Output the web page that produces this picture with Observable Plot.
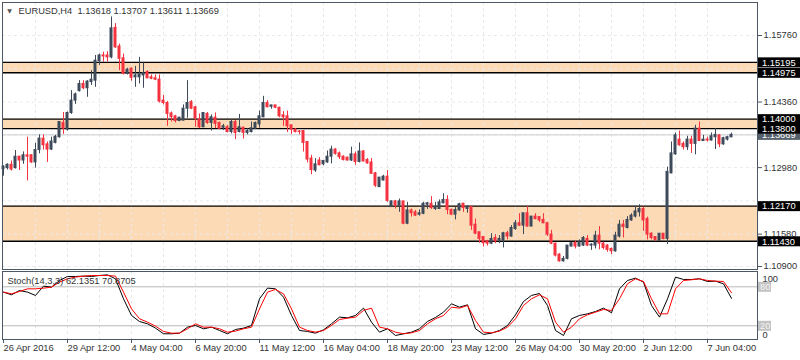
<!DOCTYPE html>
<html><head><meta charset="utf-8">
<script src="https://cdn.jsdelivr.net/npm/d3@7"></script>
<script src="https://cdn.jsdelivr.net/npm/@observablehq/plot@0.6"></script>
<style>
html,body{margin:0;padding:0;background:#fff;}
#wrap{position:relative;width:800px;height:360px;overflow:hidden;font-family:"Liberation Sans",Arial,sans-serif;}
#main{position:absolute;left:0;top:0;}
#stoch{position:absolute;left:0;top:270px;}
svg{display:block;}
</style></head><body>
<div id="wrap"><div id="main"></div><div id="stoch"></div></div>
<script>
// ---- EURUSD H4 candles (index 0 = 26 Apr 2016 20:00) ----
const opens=[1.1295,1.1297,1.1304,1.1297,1.1321,1.1313,1.1324,1.1324,1.1309,1.1335,1.1359,1.1347,1.1336,1.1350,1.1362,1.1392,1.1378,1.1413,1.1439,1.1459,
1.1474,1.1465,1.1478,1.1481,1.1522,1.1534,1.1534,1.1530,1.1592,1.1553,1.1528,1.1495,1.1506,1.1488,1.1488,1.1492,1.1499,1.1488,1.1486,1.1483,
1.1439,1.1434,1.1412,1.1406,1.1396,1.1397,1.1422,1.1436,1.1425,1.1399,1.1383,1.1411,1.1392,1.1403,1.1392,1.1382,1.1383,1.1373,1.1394,1.1373,
1.1382,1.1371,1.1373,1.1380,1.1389,1.1404,1.1434,1.1426,1.1429,1.1424,1.1408,1.1406,1.1387,1.1378,1.1374,1.1375,1.1352,1.1317,1.1292,1.1313,
1.1305,1.1309,1.1321,1.1336,1.1328,1.1321,1.1319,1.1313,1.1326,1.1310,1.1332,1.1314,1.1309,1.1286,1.1257,1.1271,1.1279,1.1215,1.1227,1.1218,
1.1227,1.1180,1.1208,1.1204,1.1199,1.1201,1.1220,1.1222,1.1211,1.1211,1.1223,1.1230,1.1209,1.1199,1.1208,1.1222,1.1211,1.1215,1.1178,1.1162,
1.1152,1.1143,1.1138,1.1150,1.1145,1.1145,1.1160,1.1153,1.1169,1.1181,1.1176,1.1202,1.1174,1.1195,1.1194,1.1188,1.1181,1.1157,1.1138,1.1115,
1.1101,1.1106,1.1132,1.1140,1.1132,1.1134,1.1148,1.1134,1.1134,1.1155,1.1138,1.1134,1.1127,1.1122,1.1153,1.1178,1.1171,1.1187,1.1195,1.1204,
1.1211,1.1190,1.1159,1.1152,1.1145,1.1159,1.1148,1.1286,1.1326,1.1357,1.1348,1.1341,1.1357,1.1348,1.1380,1.1354,1.1357,1.1355,1.1362,1.1366,
1.1347,1.1357,1.13618];
const highs=[1.1302,1.1306,1.1312,1.1334,1.1322,1.1331,1.1362,1.1325,1.1349,1.1367,1.1367,1.1352,1.1362,1.1366,1.1395,1.1414,1.1415,1.1460,1.1455,1.1481,
1.1481,1.1481,1.1502,1.1534,1.1537,1.1541,1.1542,1.1615,1.1601,1.1558,1.1537,1.1507,1.1508,1.1511,1.1530,1.1518,1.1502,1.1493,1.1493,1.1493,
1.1450,1.1437,1.1415,1.1408,1.1404,1.1430,1.1481,1.1439,1.1427,1.1411,1.1413,1.1414,1.1409,1.1413,1.1394,1.1389,1.1387,1.1399,1.1397,1.1410,
1.1383,1.1380,1.1394,1.1394,1.1417,1.1448,1.1439,1.1429,1.1429,1.1425,1.1416,1.1417,1.1388,1.1380,1.1376,1.1376,1.1352,1.1324,1.1317,1.1319,
1.1313,1.1333,1.1343,1.1338,1.1331,1.1323,1.1320,1.1341,1.1331,1.1350,1.1334,1.1317,1.1317,1.1288,1.1277,1.1282,1.1292,1.1228,1.1229,1.1232,
1.1227,1.1225,1.1211,1.1208,1.1209,1.1225,1.1225,1.1237,1.1225,1.1230,1.1243,1.1239,1.1211,1.1214,1.1223,1.1223,1.1218,1.1216,1.1190,1.1162,
1.1152,1.1145,1.1159,1.1157,1.1155,1.1162,1.1164,1.1176,1.1187,1.1201,1.1202,1.1216,1.1195,1.1201,1.1195,1.1201,1.1183,1.1166,1.1139,1.1117,
1.1111,1.1134,1.1141,1.1143,1.1146,1.1153,1.1155,1.1138,1.1164,1.1174,1.1141,1.1136,1.1129,1.1162,1.1187,1.1187,1.1195,1.1201,1.1215,1.1220,
1.1215,1.1194,1.1161,1.1153,1.1159,1.1159,1.1299,1.1352,1.1371,1.1375,1.1352,1.1364,1.1364,1.1387,1.1394,1.1366,1.1362,1.1371,1.1380,1.1367,
1.1362,1.1364,1.13707];
const lows=[1.1280,1.1293,1.1291,1.1295,1.1292,1.1305,1.1270,1.1307,1.1297,1.1327,1.1335,1.1309,1.1334,1.1348,1.1360,1.1368,1.1375,1.1410,1.1431,1.1457,
1.1462,1.1446,1.1471,1.1467,1.1513,1.1520,1.1520,1.1527,1.1549,1.1502,1.1493,1.1493,1.1480,1.1467,1.1474,1.1465,1.1485,1.1483,1.1481,1.1434,
1.1430,1.1385,1.1394,1.1392,1.1395,1.1396,1.1402,1.1420,1.1383,1.1380,1.1382,1.1389,1.1375,1.1380,1.1378,1.1376,1.1371,1.1369,1.1357,1.1371,
1.1358,1.1367,1.1371,1.1378,1.1381,1.1403,1.1424,1.1421,1.1422,1.1403,1.1385,1.1372,1.1368,1.1371,1.1367,1.1331,1.1308,1.1283,1.1288,1.1302,
1.1302,1.1307,1.1306,1.1324,1.1315,1.1312,1.1312,1.1311,1.1303,1.1308,1.1310,1.1305,1.1284,1.1256,1.1256,1.1270,1.1225,1.1215,1.1211,1.1204,
1.1178,1.1178,1.1194,1.1195,1.1196,1.1199,1.1210,1.1210,1.1208,1.1210,1.1222,1.1199,1.1197,1.1188,1.1206,1.1204,1.1202,1.1166,1.1157,1.1139,
1.1131,1.1133,1.1136,1.1138,1.1138,1.1129,1.1146,1.1152,1.1166,1.1174,1.1157,1.1173,1.1174,1.1188,1.1183,1.1180,1.1153,1.1136,1.1110,1.1099,
1.1099,1.1104,1.1131,1.1127,1.1131,1.1132,1.1132,1.1124,1.1127,1.1125,1.1125,1.1120,1.1115,1.1120,1.1150,1.1150,1.1169,1.1185,1.1192,1.1194,
1.1164,1.1146,1.1146,1.1143,1.1143,1.1146,1.1136,1.1285,1.1324,1.1343,1.1335,1.1334,1.1328,1.1325,1.1353,1.1353,1.1352,1.1354,1.1336,1.1340,
1.1345,1.1354,1.13611];
const closes=[1.1300,1.1304,1.1294,1.1321,1.1313,1.1324,1.1321,1.1309,1.1335,1.1359,1.1345,1.1336,1.1353,1.1363,1.1394,1.1380,1.1413,1.1439,1.1452,1.1474,
1.1465,1.1479,1.1483,1.1523,1.1534,1.1532,1.1530,1.1591,1.1551,1.1527,1.1495,1.1504,1.1487,1.1492,1.1494,1.1497,1.1486,1.1485,1.1483,1.1437,
1.1434,1.1411,1.1404,1.1396,1.1403,1.1422,1.1434,1.1422,1.1401,1.1383,1.1413,1.1392,1.1404,1.1390,1.1380,1.1385,1.1373,1.1394,1.1371,1.1383,
1.1371,1.1375,1.1381,1.1392,1.1406,1.1434,1.1425,1.1429,1.1424,1.1406,1.1404,1.1385,1.1378,1.1373,1.1373,1.1350,1.1315,1.1293,1.1305,1.1303,
1.1312,1.1321,1.1336,1.1327,1.1320,1.1314,1.1313,1.1326,1.1310,1.1332,1.1311,1.1307,1.1285,1.1260,1.1277,1.1279,1.1228,1.1227,1.1218,1.1227,
1.1180,1.1208,1.1202,1.1197,1.1202,1.1222,1.1223,1.1213,1.1215,1.1225,1.1230,1.1209,1.1199,1.1209,1.1221,1.1213,1.1215,1.1176,1.1159,1.1148,
1.1139,1.1138,1.1148,1.1143,1.1148,1.1160,1.1153,1.1171,1.1181,1.1176,1.1202,1.1174,1.1195,1.1190,1.1187,1.1181,1.1157,1.1138,1.1113,1.1101,
1.1106,1.1134,1.1139,1.1132,1.1141,1.1150,1.1134,1.1136,1.1155,1.1138,1.1129,1.1125,1.1122,1.1155,1.1178,1.1173,1.1188,1.1197,1.1206,1.1211,
1.1187,1.1157,1.1150,1.1146,1.1159,1.1148,1.1289,1.1328,1.1366,1.1345,1.1341,1.1357,1.1348,1.1380,1.1354,1.1357,1.1355,1.1364,1.1367,1.1347,
1.1360,1.1362,1.13669];

// ---- Stochastic (14,3,3), sampled every second bar ----
const stochK=[71.8,67.7,74.3,71.8,66.7,81,79.5,89.7,95.9,95.9,96.4,95.9,97.4,98.4,92.3,61.5,35.9,26.6,23.1,16.4,
7.7,7.7,8.7,17.9,20.5,15.4,17.9,12.8,7.7,14.3,16.4,20.5,61.5,78,76.9,64.1,35.9,12.8,11.3,8.7,
13.8,23.1,33.3,32.3,35.9,47.2,25.6,10.2,15.4,5.1,
7.7,10.2,15.4,26.7,32.8,41,53.8,48.7,52.3,15.4,6.7,8.7,12.8,20.5,36.9,57.4,66.7,69.7,51.3,12.8,
5.1,30.8,35.9,38.4,42,47.2,40,76.9,89.7,93.3,87.2,51.3,33.3,61.5,94.9,91.3,91.3,92.3,88.2,88.7,84.6,62.1351];
const stochD=[71.8,69.2,72.8,76.9,76.9,77.9,79.5,87.2,92.3,94.9,96.4,97.4,97.4,97.4,96.4,71.8,46.1,30.8,25.6,19.5,
11.3,8.7,8.7,15.4,23.1,17.9,17.9,15.4,10.2,11.8,15.4,17.9,46.1,71.8,75.9,69.2,46.1,17.9,12.8,10.2,
12.8,20.5,29.7,31.8,33.3,43.6,47.2,17.9,15.4,10.2,
7.7,9.2,12.8,23.1,30.8,35.9,48.7,47.2,51.3,28.2,10.2,9.2,11.8,17.9,30.8,51.3,61.5,67.7,61.5,25.6,
10.2,17.9,30.8,36.9,41,45.1,43.6,61.5,84.6,92.3,88.2,61.5,38.4,38.4,76.9,89.7,90.8,92.3,89.7,88.7,88.2,70.8705];

// ---- levels, ticks, labels ----
const zones=[{hi:1.15195,lo:1.14975},{hi:1.14000,lo:1.13800},{hi:1.12170,lo:1.11430}];
const zoneLevels=[1.15195,1.14975,1.14000,1.13800,1.12170,1.11430];
const bidPrice=1.13669;
const gridPrices=[1.15760,1.15060,1.14360,1.13670,1.12980,1.12280,1.11580,1.10900];
const priceLabels=[1.15760,1.14360,1.12980,1.11580,1.10900];
const timeLabelIdx=[0,16,32,48,64,80,96,112,128,144,160,176];
const timeLabels=["26 Apr 2016","29 Apr 12:00","4 May 04:00","6 May 20:00","11 May 12:00","16 May 04:00","18 May 20:00","23 May 12:00","26 May 04:00","30 May 20:00","2 Jun 12:00","7 Jun 04:00"];
const gridIdx=d3.range(8,183,8);
const headerText="EURUSD,H4  1.13618 1.13707 1.13611 1.13669";
const stochText="Stoch(14,3,3) 62.1351 70.8705";

const BULL="#3e4a5a", BEAR="#f5323f", FRAME="#4b5764", ZONE="#fddab6", GRID="#e9e9e9", TXT="#333";
const FONT="'Liberation Sans', Arial, sans-serif";

const candles=opens.map((o,i)=>({i,o,h:highs[i],l:lows[i],c:closes[i],col:closes[i]>=o?BULL:BEAR}));
const stochRows=stochK.map((k,j)=>({i:Math.min(2*j,opens.length-1),k,d:stochD[j]}));
const X={domain:[0,182],range:[3,731]};

const main=Plot.plot({
  width:800,height:270,
  marginLeft:2,marginRight:43,marginTop:2,marginBottom:1,
  x:{...X,axis:null},
  y:{domain:[1.10900,1.15760],range:[266,35]},
  style:{fontFamily:FONT,fontSize:"9.3px",color:TXT,background:"transparent",overflow:"visible"},
  marks:[
    Plot.rect(zones,{y1:"lo",y2:"hi",fill:ZONE}),
    Plot.ruleY(gridPrices,{stroke:GRID,strokeDasharray:"3,3"}),
    Plot.ruleX(gridIdx,{stroke:GRID,strokeDasharray:"3,3"}),
    Plot.ruleY([bidPrice],{stroke:"#c9cdd1"}),
    Plot.ruleY(zoneLevels,{stroke:"#000",strokeWidth:1.4}),
    Plot.ruleX(candles,{x:"i",y1:"l",y2:"h",stroke:"col",strokeWidth:1}),
    Plot.rect(candles,{x1:d=>d.i-0.375,x2:d=>d.i+0.375,y1:d=>Math.min(d.o,d.c),y2:d=>Math.max(d.o,d.c),fill:"col",insetTop:-0.5,insetBottom:-0.5}),
    Plot.frame({stroke:FRAME}),
    Plot.axisY(priceLabels,{anchor:"right",tickSize:4,tickPadding:2,tickFormat:d=>d.toFixed(5),stroke:FRAME,label:null}),
    Plot.text([headerText],{frameAnchor:"top-left",dx:16,dy:9,text:d=>d,textAnchor:"start",lineAnchor:"middle",fill:TXT,fontSize:9.3}),
    Plot.text(["▼"],{frameAnchor:"top-left",dx:7,dy:9,text:d=>d,textAnchor:"middle",lineAnchor:"middle",fill:"#555",fontSize:6,fontFamily:"DejaVu Sans"})
  ]
});
document.getElementById("main").appendChild(main);

// price boxes on the right axis, positioned with Plot's own y scale
const ys=main.scale("y");
const svgM=d3.select(main);
function box(v,fill,txtFill){
  const y=ys.apply(v)+0.5;
  svgM.append("rect").attr("x",758).attr("y",y-5).attr("width",42).attr("height",10).attr("fill",fill);
  svgM.append("text").attr("x",762).attr("y",y).attr("dy","0.35em").attr("fill",txtFill)
    .attr("text-anchor","start").attr("font-size","9.3px").attr("font-family",FONT).text(v.toFixed(5));
}
box(bidPrice,"#56616d","#fff");
zoneLevels.forEach(v=>box(v,"#000","#fff"));

const stoch=Plot.plot({
  width:800,height:90,
  marginLeft:2,marginRight:43,marginTop:1,marginBottom:21,
  x:{...X},
  y:{domain:[0,100],range:[68.3,3.3],axis:null},
  style:{fontFamily:FONT,fontSize:"9.3px",color:TXT,background:"transparent",overflow:"visible"},
  marks:[
    Plot.ruleX(gridIdx,{stroke:GRID,strokeDasharray:"3,3"}),
    Plot.ruleY([20,80],{stroke:"#b8b8b8"}),
    Plot.line(stochRows,{x:"i",y:"k",stroke:"#000",strokeWidth:1}),
    Plot.line(stochRows,{x:"i",y:"d",stroke:"#ff0000",strokeWidth:1}),
    Plot.frame({stroke:FRAME}),
    Plot.axisX(timeLabelIdx,{anchor:"bottom",tickSize:4,tickPadding:1,textAnchor:"start",label:null,tickFormat:d=>timeLabels[timeLabelIdx.indexOf(d)],stroke:FRAME,fill:TXT}),
    Plot.text([stochText],{frameAnchor:"top-left",dx:5,dy:9.5,text:d=>d,textAnchor:"start",lineAnchor:"middle",fill:TXT,fontSize:9.3}),
    Plot.text([100],{y:d=>d,frameAnchor:"right",dx:5,dy:5,text:d=>String(d),textAnchor:"start",fill:TXT}),
    Plot.text([0],{y:d=>d,frameAnchor:"right",dx:5,dy:-4,text:d=>String(d),textAnchor:"start",fill:TXT})
  ]
});
document.getElementById("stoch").appendChild(stoch);
const ys2=stoch.scale("y");
const svgS=d3.select(stoch);
[80,20].forEach(v=>{
  const y=ys2.apply(v)+0.5;
  svgS.append("rect").attr("x",758).attr("y",y-5).attr("width",13).attr("height",10).attr("fill","#c3c3c3");
  svgS.append("text").attr("x",760).attr("y",y).attr("dy","0.35em").attr("fill","#f4f4f4")
    .attr("text-anchor","start").attr("font-size","9.3px").attr("font-family",FONT).text(String(v));
});
</script>
</body></html>
